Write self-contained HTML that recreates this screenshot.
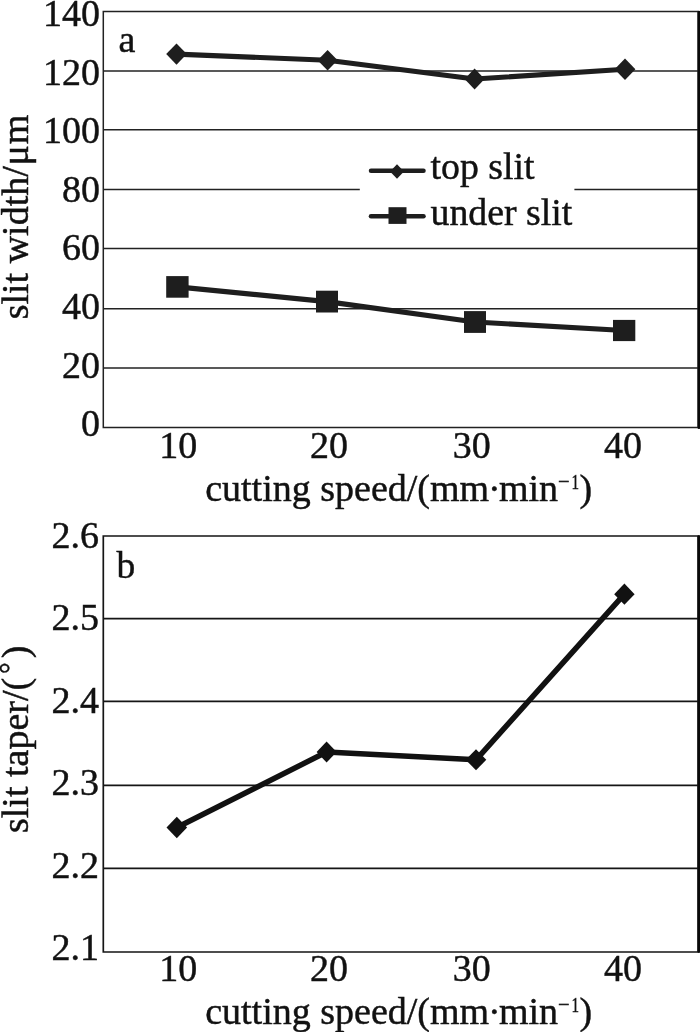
<!DOCTYPE html>
<html><head><meta charset="utf-8"><title>slit width and taper vs cutting speed</title>
<style>
html,body{margin:0;padding:0;background:#fff;width:700px;height:1032px;overflow:hidden}
svg{display:block}
text{font-family:"Liberation Serif","Times New Roman",serif;fill:#111;stroke:#111;stroke-width:0.45px;paint-order:stroke}
</style></head><body>
<svg width="700" height="1032" viewBox="0 0 700 1032">
<!-- ===== Chart a ===== -->
<g id="chart-a">
  <!-- gridlines -->
  <g stroke="#222" stroke-width="1.5" fill="none">
    <line x1="103" y1="70.9" x2="698" y2="70.9"/>
    <line x1="103" y1="129.7" x2="698" y2="129.7"/>
    <line x1="103" y1="189.6" x2="698" y2="189.6"/>
    <line x1="103" y1="248.4" x2="698" y2="248.4"/>
    <line x1="103" y1="308.8" x2="698" y2="308.8"/>
    <line x1="103" y1="367.9" x2="698" y2="367.9"/>
  </g>
  <!-- frame -->
  <path d="M103.3 11.6 H698 V427.4 H103.3 Z" stroke="#222" stroke-width="1.5" fill="none"/>
  <rect x="697.8" y="10.9" width="2.2" height="418" fill="#0a0a0a"/>
  <!-- y tick labels -->
  <g font-size="38" text-anchor="end">
    <text x="100" y="26">140</text>
    <text x="100" y="84.6">120</text>
    <text x="100" y="143.2">100</text>
    <text x="100" y="201.8">80</text>
    <text x="100" y="260.4">60</text>
    <text x="100" y="319">40</text>
    <text x="100" y="377.6">20</text>
    <text x="100" y="436.2">0</text>
  </g>
  <!-- x tick labels -->
  <g font-size="38" text-anchor="middle">
    <text x="178.2" y="458">10</text>
    <text x="328.9" y="458">20</text>
    <text x="471.8" y="458">30</text>
    <text x="623" y="458">40</text>
  </g>
  <!-- axis titles -->
  <text x="205.2" y="501" font-size="38">cutting speed/(mm<tspan dx="-1.2">·</tspan><tspan dx="-1.6">min</tspan><tspan x="557.9" y="487.9" font-size="20.5">−</tspan><tspan x="579.4" y="501">)</tspan></text>
  <text transform="translate(571.6 488.9) scale(0.72 1)" font-size="21">1</text>
  <text transform="translate(27.7 319.3) rotate(-90)" font-size="38">slit width/<tspan dx="0.8">μ</tspan><tspan dx="0.8">m</tspan></text>
  <text x="118.6" y="52.2" font-size="38">a</text>
  <!-- legend -->
  <rect x="359.8" y="150" width="214.6" height="84" fill="#fff"/>
  <g stroke="#1e1e1e" stroke-width="4.5" stroke-linecap="round">
    <line x1="371" y1="170.8" x2="423.5" y2="170.8"/>
    <line x1="371" y1="216.2" x2="423.5" y2="216.2"/>
  </g>
  <path d="M397 164.2 L404 171.5 L397 178.8 L390 171.5 Z" fill="#1e1e1e"/>
  <rect x="388.5" y="207.2" width="18" height="16.7" fill="#1e1e1e"/>
  <text x="430.5" y="178.6" font-size="37.8">top slit</text>
  <text x="430.5" y="225.1" font-size="37.8">under slit</text>
  <!-- series: top slit -->
  <g fill="#1e1e1e" stroke="#1e1e1e">
    <polyline points="176.5,54.1 327.6,60.3 474.6,79 625,69.3" fill="none" stroke-width="5.1" stroke-linejoin="round"/>
    <path d="M176.5 43.6 L186.8 54.1 L176.5 64.7 L166.2 54.1 Z" stroke="none"/>
    <path d="M327.6 50 L337.6 60.3 L327.6 70.6 L317.6 60.3 Z" stroke="none"/>
    <path d="M474.6 68.5 L484.6 79 L474.6 89.5 L464.6 79 Z" stroke="none"/>
    <path d="M625 58.6 L635.4 69.3 L625 80 L614.6 69.3 Z" stroke="none"/>
  </g>
  <!-- series: under slit -->
  <g fill="#1e1e1e" stroke="#1e1e1e">
    <polyline points="177.4,286.9 327,301.6 475,322 624.1,330.5" fill="none" stroke-width="5.1" stroke-linejoin="round"/>
    <rect x="166.2" y="276.1" width="22.4" height="21.6" stroke="none"/>
    <rect x="316" y="290.7" width="22" height="21.8" stroke="none"/>
    <rect x="464" y="311.1" width="22" height="21.8" stroke="none"/>
    <rect x="613" y="319.9" width="22.3" height="21.2" stroke="none"/>
  </g>
</g>

<!-- ===== Chart b ===== -->
<g id="chart-b">
  <g stroke="#151515" stroke-width="1.7" fill="none">
    <line x1="103" y1="618.7" x2="698" y2="618.7"/>
    <line x1="103" y1="701.3" x2="698" y2="701.3"/>
    <line x1="103" y1="785.3" x2="698" y2="785.3"/>
    <line x1="103" y1="868.3" x2="698" y2="868.3"/>
  </g>
  <path d="M103.3 536 H698 V952 H103.3 Z" stroke="#151515" stroke-width="1.7" fill="none"/>
  <rect x="697.8" y="535.2" width="2.2" height="417.6" fill="#0a0a0a"/>
  <g font-size="38" text-anchor="end">
    <text x="99" y="547.5">2.6</text>
    <text x="99" y="630">2.5</text>
    <text x="99" y="712.5">2.4</text>
    <text x="99" y="795">2.3</text>
    <text x="99" y="877.5">2.2</text>
    <text x="99" y="960">2.1</text>
  </g>
  <g font-size="38" text-anchor="middle">
    <text x="178.2" y="980.5">10</text>
    <text x="328.9" y="980.5">20</text>
    <text x="471.8" y="980.5">30</text>
    <text x="623" y="980.5">40</text>
  </g>
  <text x="205.2" y="1024.3" font-size="38">cutting speed/(mm<tspan dx="-1.2">·</tspan><tspan dx="-1.6">min</tspan><tspan x="557.9" y="1011.2" font-size="20.5">−</tspan><tspan x="579.4" y="1024.3">)</tspan></text>
  <text transform="translate(571.6 1012.2) scale(0.72 1)" font-size="21">1</text>
  <text transform="translate(27.5 833) rotate(-90)" font-size="38">slit taper/(<tspan dx="4" dy="-8" font-size="29">°</tspan><tspan dx="4" dy="8" font-size="38">)</tspan></text>
  <text x="116.6" y="578.3" font-size="37.5">b</text>
  <g fill="#111" stroke="#111">
    <polyline points="176.8,827.5 326.6,752 476,759.8 624.4,594.2" fill="none" stroke-width="5.5" stroke-linejoin="round"/>
    <path d="M176.8 816.8 L187.1 827.5 L176.8 838.2 L166.5 827.5 Z" stroke="none"/>
    <path d="M326.6 741.4 L336.6 752 L326.6 762.6 L316.6 752 Z" stroke="none"/>
    <path d="M476 749.3 L486.3 759.8 L476 770.3 L465.7 759.8 Z" stroke="none"/>
    <path d="M624.4 583.6 L634.6 594.2 L624.4 604.8 L614.2 594.2 Z" stroke="none"/>
  </g>
</g>
</svg>
</body></html>
